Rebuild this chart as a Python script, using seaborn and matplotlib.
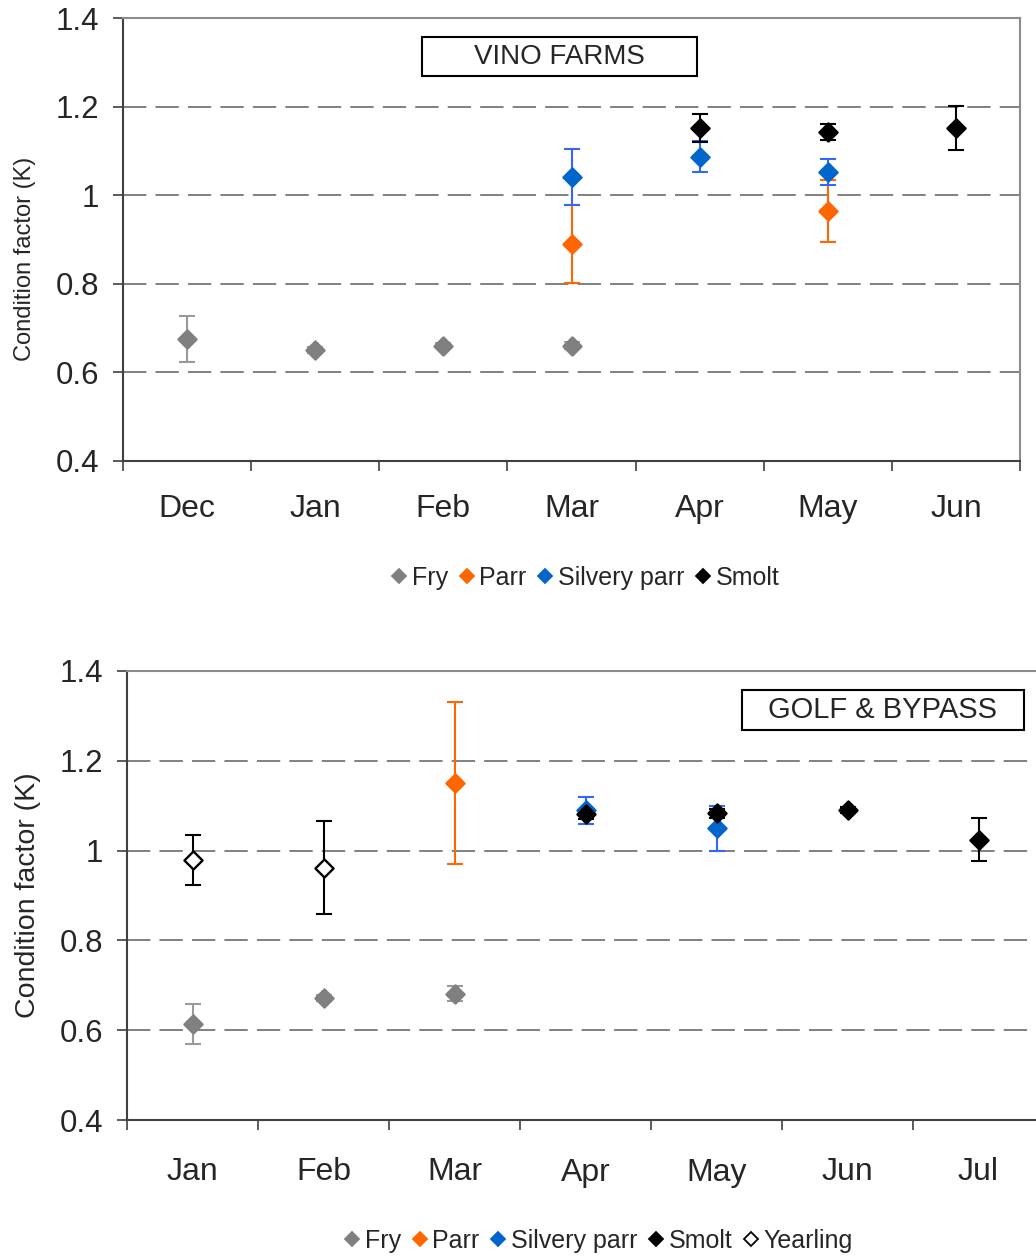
import numpy as np
import pandas as pd
import matplotlib.pyplot as plt
import seaborn as sns
from matplotlib.lines import Line2D
from matplotlib.patches import Rectangle

# ---- data ----
vino_months = ['Dec', 'Jan', 'Feb', 'Mar', 'Apr', 'May', 'Jun']
vino_fry_m = ['Dec', 'Jan', 'Feb', 'Mar']
vino_fry_k = [0.675, 0.650, 0.660, 0.660]
vino_fry_err = [0.052, 0.007, 0.006, 0.008]
vino_parr_m = ['Mar', 'May']
vino_parr_k = [0.890, 0.964]
vino_parr_err = [0.089, 0.070]
vino_silv_m = ['Mar', 'Apr', 'May']
vino_silv_k = [1.041, 1.087, 1.052]
vino_silv_err = [0.063, 0.035, 0.030]
vino_smolt_m = ['Apr', 'May', 'Jun']
vino_smolt_k = [1.152, 1.143, 1.152]
vino_smolt_err = [0.032, 0.018, 0.050]

golf_months = ['Jan', 'Feb', 'Mar', 'Apr', 'May', 'Jun', 'Jul']
golf_fry_m = ['Jan', 'Feb', 'Mar']
golf_fry_k = [0.614, 0.672, 0.681]
golf_fry_err = [0.044, 0.006, 0.017]
golf_parr_m = ['Mar']
golf_parr_k = [1.151]
golf_parr_err = [0.180]
golf_silv_m = ['Apr', 'May']
golf_silv_k = [1.090, 1.050]
golf_silv_err = [0.030, 0.050]
golf_smolt_m = ['Apr', 'May', 'Jun', 'Jul']
golf_smolt_k = [1.081, 1.083, 1.090, 1.024]
golf_smolt_err = [0.010, 0.010, 0.006, 0.048]
golf_year_m = ['Jan', 'Feb']
golf_year_k = [0.979, 0.962]
golf_year_err = [0.055, 0.103]

# stage: (marker face, marker edge, error bar colour)
styles = {
    'Fry': ('#808080', '#808080', '#9a9a9a'),
    'Parr': ('#ff6600', '#ff6600', '#ff6600'),
    'Silvery parr': ('#0066cc', '#0066cc', '#3366ff'),
    'Smolt': ('#000000', '#000000', '#000000'),
    'Yearling': ('#ffffff', '#000000', '#000000'),
}

sns.set_theme(style='white')
plt.rcParams['font.family'] = ['Liberation Sans', 'DejaVu Sans']

W, H = 1036, 1258
fig = plt.figure(figsize=(W / 100, H / 100), dpi=100)
ax1 = fig.add_axes([123 / W, 1 - 461 / H, (1020 - 123) / W, 443 / H])
ax2 = fig.add_axes([127 / W, 1 - 1120 / H, (1044 - 127) / W, 449 / H])


def draw_stage(ax, months, stage, m, k, err):
    face, edge, ecol = styles[stage]
    df = pd.DataFrame({'x': [months.index(v) for v in m], 'k': k, 'err': err})
    ax.errorbar(df['x'], df['k'], yerr=df['err'], fmt='none', ecolor=ecol,
                elinewidth=1.5, capsize=6, capthick=1.5, zorder=3)
    sns.scatterplot(data=df, x='x', y='k', ax=ax, marker='D', s=85,
                    color=face, edgecolor=edge, linewidth=1.7, zorder=4, legend=False)


def style_axes(ax, months, ylab_size, ylab_x, ylab_y, xpad):
    ax.set_xlim(-0.5, len(months) - 0.5)
    ax.set_ylim(0.4, 1.4)
    ax.set_yticks([0.4, 0.6, 0.8, 1.0, 1.2, 1.4])
    ax.set_yticklabels(['0.4', '0.6', '0.8', '1', '1.2', '1.4'])
    ax.set_xticks(range(len(months)))
    ax.set_xticklabels(months)
    ax.set_xticks(np.arange(len(months) + 1) - 0.5, minor=True)
    ax.tick_params(axis='x', which='major', length=0, pad=xpad, labelsize=23)
    ax.tick_params(axis='x', which='minor', length=7, width=1.2, color='#404040',
                   direction='out', bottom=True)
    ax.tick_params(axis='y', length=7, width=1.2, color='#404040', direction='out',
                   left=True, pad=10, labelsize=22.5)
    for y in [0.6, 0.8, 1.0, 1.2]:
        ax.axhline(y, color='#808080', lw=1.4, ls=(0, (12, 4.7)), zorder=1)
    for s in ['left', 'bottom']:
        ax.spines[s].set_color('#404040')
        ax.spines[s].set_linewidth(1.5)
    for s in ['top', 'right']:
        ax.spines[s].set_color('#8c8c8c')
        ax.spines[s].set_linewidth(1.5)
    ax.set_xlabel('')
    ax.set_ylabel('Condition factor (K)', fontsize=ylab_size)
    ax.yaxis.set_label_coords(ylab_x, ylab_y)


draw_stage(ax1, vino_months, 'Fry', vino_fry_m, vino_fry_k, vino_fry_err)
draw_stage(ax1, vino_months, 'Parr', vino_parr_m, vino_parr_k, vino_parr_err)
draw_stage(ax1, vino_months, 'Silvery parr', vino_silv_m, vino_silv_k, vino_silv_err)
draw_stage(ax1, vino_months, 'Smolt', vino_smolt_m, vino_smolt_k, vino_smolt_err)
style_axes(ax1, vino_months, 17, -0.097, 0.456, 24)

draw_stage(ax2, golf_months, 'Fry', golf_fry_m, golf_fry_k, golf_fry_err)
draw_stage(ax2, golf_months, 'Parr', golf_parr_m, golf_parr_k, golf_parr_err)
draw_stage(ax2, golf_months, 'Silvery parr', golf_silv_m, golf_silv_k, golf_silv_err)
draw_stage(ax2, golf_months, 'Smolt', golf_smolt_m, golf_smolt_k, golf_smolt_err)
draw_stage(ax2, golf_months, 'Yearling', golf_year_m, golf_year_k, golf_year_err)
style_axes(ax2, golf_months, 20.5, -0.094, 0.5, 27)

# site label boxes
for (x0, y0, x1, y1, label, fs) in [(422, 37, 697, 76, 'VINO FARMS', 20),
                                    (742, 690, 1024, 730, 'GOLF & BYPASS', 21)]:
    fig.add_artist(Rectangle((x0 / W, 1 - y1 / H), (x1 - x0) / W, (y1 - y0) / H,
                             transform=fig.transFigure, fill=False,
                             edgecolor='black', lw=1.5))
    fig.text((x0 + x1) / 2 / W, 1 - (y0 + y1) / 2 / H, label, fontsize=fs,
             ha='center', va='center')


def legend_handles(stages):
    hs = []
    for st in stages:
        face, edge, _ = styles[st]
        hs.append(Line2D([], [], ls='none', marker='D', ms=7.5, mfc=face, mec=edge,
                         mew=1.3, label=st))
    return hs


for stages, cx, cy in [(['Fry', 'Parr', 'Silvery parr', 'Smolt'], 585, 578),
                       (['Fry', 'Parr', 'Silvery parr', 'Smolt', 'Yearling'], 598, 1241)]:
    fig.legend(handles=legend_handles(stages), loc='center', ncol=len(stages),
               bbox_to_anchor=(cx / W, 1 - cy / H), frameon=False, fontsize=18,
               handlelength=0.7, handletextpad=0.15, columnspacing=0.4,
               borderpad=0, borderaxespad=0)

fig.savefig('out.png', dpi=100)
